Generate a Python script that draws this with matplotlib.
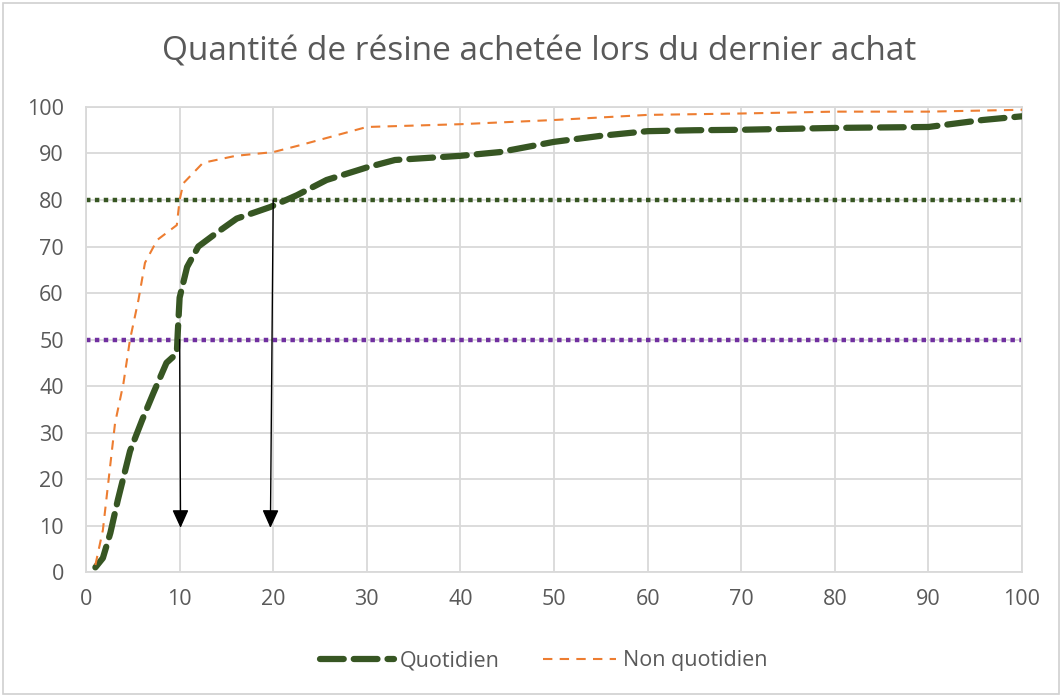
import matplotlib.pyplot as plt
from matplotlib.patches import Rectangle

# courbes cumulées
quot_x = [1, 1.8, 2.6, 3.4, 4.7, 6, 7.2, 8.6, 9.7, 9.8, 10, 10.8, 12, 14, 16.1, 19.7,
          22.5, 25.7, 30, 33, 40, 44.2, 50, 55, 60, 65, 70, 80, 90, 95.8, 100]
quot_y = [1, 3, 8.4, 15.5, 26, 32.7, 38.5, 45, 47, 51.4, 59, 65.6, 70, 73, 76, 78.5,
          81, 84.3, 87, 88.6, 89.5, 90.3, 92.5, 93.8, 94.8, 95, 95.1, 95.5, 95.7, 97.2, 98]

nonquot_x = [1, 1.8, 3.1, 4, 4.7, 5.6, 6.3, 7.6, 9.7, 10, 10.4, 12.5, 16, 20, 22.9,
             26, 30, 40, 50, 60, 70, 80, 90, 100]
nonquot_y = [1.5, 9, 32, 40.6, 50, 58.5, 66.5, 71.4, 74.6, 80, 83.6, 88, 89.5, 90.3, 91.8,
             93.5, 95.7, 96.3, 97.2, 98.3, 98.6, 99, 99, 99.4]

seuils = [80, 50]
seuil_colors = ['#375623', '#7030A0']

# flèches : (x départ, y départ, x arrivée, y arrivée)
arrows = [(10, 50, 10.1, 9.5), (20, 80, 19.7, 9.5)]

xticks = list(range(0, 101, 10))
yticks = list(range(0, 101, 10))

plt.rcParams['font.family'] = ['Open Sans', 'DejaVu Sans']
text_color = '#595959'

fig = plt.figure(figsize=(10.62, 6.97), dpi=100)
fig.patches.append(Rectangle((0.003, 0.004), 0.994, 0.992, transform=fig.transFigure,
                             fill=False, edgecolor='#D0D0D0', linewidth=1.2))
ax = fig.add_axes([0.081, 0.1793, 0.8813, 0.6672])

for s, c in zip(seuils, seuil_colors):
    ax.axhline(s, color=c, linewidth=3.2, linestyle=(0, (1, 1)), zorder=2)

ax.plot(quot_x, quot_y, color='#375623', linewidth=4.5, linestyle=(0, (3.8, 1.6)),
        dash_capstyle='round', label='Quotidien', zorder=3)
ax.plot(nonquot_x, nonquot_y, color='#ED7D31', linewidth=1.5, linestyle=(0, (4.5, 3.5)),
        label='Non quotidien', zorder=3)

for x0, y0, x1, y1 in arrows:
    ax.annotate('', xy=(x1, y1), xytext=(x0, y0),
                arrowprops=dict(arrowstyle='-|>,head_length=1.1,head_width=0.5',
                                color='black', linewidth=1.0, shrinkA=0, shrinkB=0),
                zorder=4)

ax.set_xlim(0, 100)
ax.set_ylim(0, 100)
ax.set_xticks(xticks)
ax.set_yticks(yticks)
ax.grid(True, color='#D9D9D9', linewidth=1.3)
ax.set_axisbelow(True)
for sp in ax.spines.values():
    sp.set_color('#D9D9D9')
    sp.set_linewidth(1.3)
ax.tick_params(length=0, labelsize=15.5, labelcolor=text_color)
ax.tick_params(axis='y', pad=16)
ax.tick_params(axis='x', pad=12)

fig.text(0.508, 0.925, 'Quantité de résine achetée lors du dernier achat',
         ha='center', va='center', fontsize=24, color=text_color)

fig.legend(loc='center', bbox_to_anchor=(0.512, 0.052), ncol=2, frameon=False,
           fontsize=15.5, labelcolor=text_color, handlelength=3.4, columnspacing=2.0,
           handletextpad=0.3)

fig.savefig('out.png', dpi=100)
